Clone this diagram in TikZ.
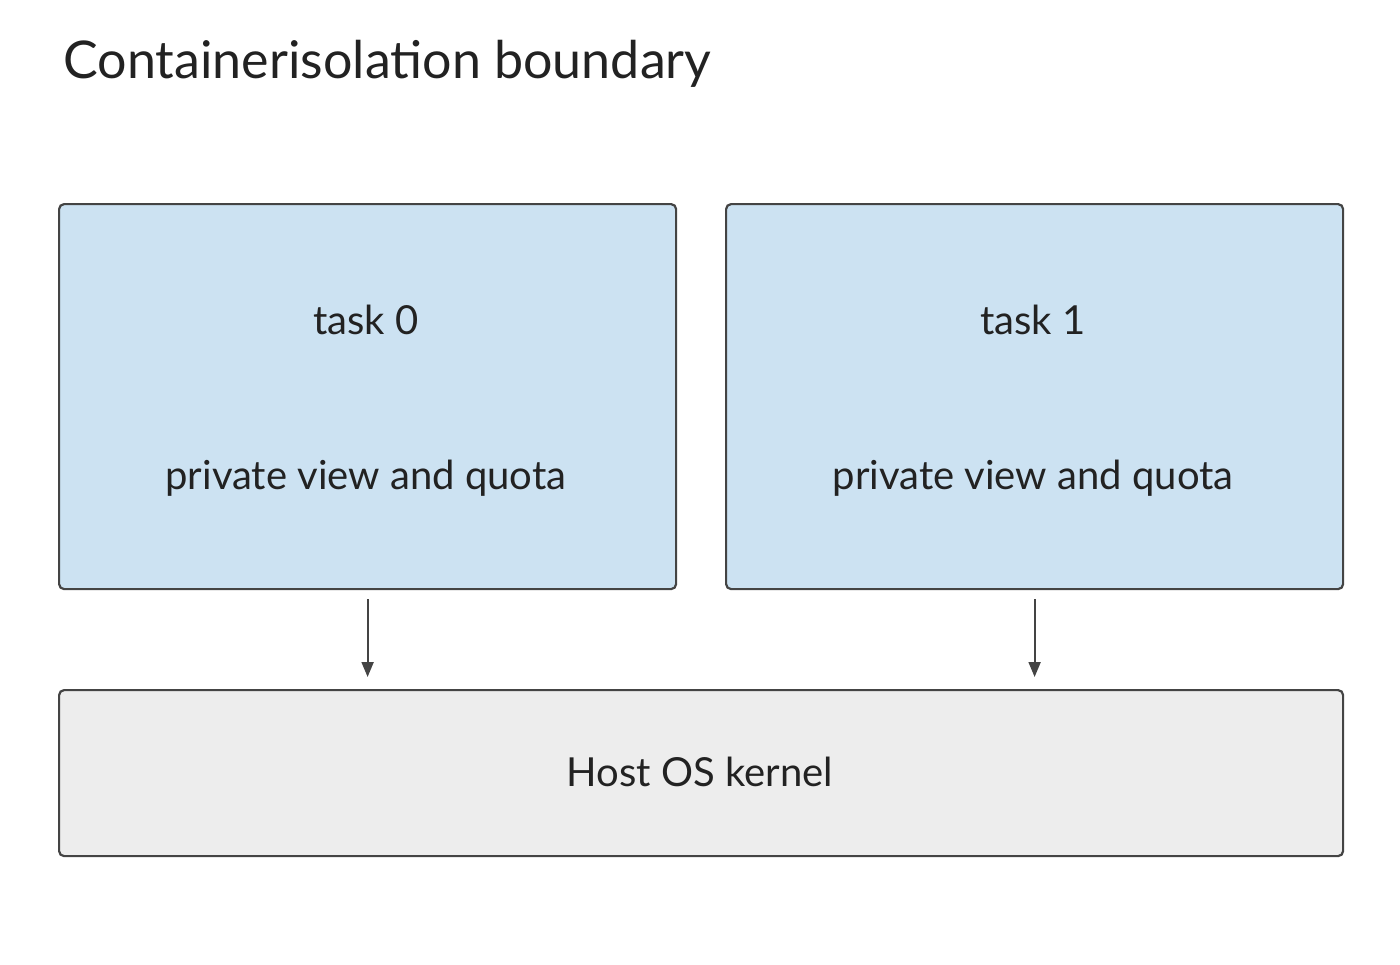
\documentclass[tikz,border=0pt]{standalone}
\usepackage{fontspec}
\setmainfont{Lato}
\usetikzlibrary{arrows.meta}
\definecolor{bord}{HTML}{444444}
\definecolor{blu}{HTML}{CCE2F2}
\definecolor{gry}{HTML}{EDEDED}
\definecolor{txt}{HTML}{222222}
\begin{document}
\begin{tikzpicture}[x=1pt,y=-1pt,
  boxst/.style={draw=bord,line width=2.2pt,rounded corners=5pt,inner sep=0pt,anchor=north west},
  lbl/.style={text=txt,font=\fontsize{40}{48}\selectfont},
  arr/.style={draw=bord,line width=2pt,-{Triangle[length=15pt,width=12pt]},shorten <=9pt,shorten >=12pt}]
\useasboundingbox (0,0) rectangle (1400,964);
\node[text=txt,font=\fontsize{52}{60}\selectfont,anchor=base west] (title) at (60,78) {Containerisolation boundary};
\node[boxst,fill=blu,minimum width=617pt,minimum height=385pt] (t0) at (58,203) {};
\node[boxst,fill=blu,minimum width=617pt,minimum height=385pt] (t1) at (725,203) {};
\node[boxst,fill=gry,minimum width=1284pt,minimum height=166pt] (host) at (58,689) {};
\node[lbl] (t0a) at (366,320) {task 0};
\node[lbl] (t0b) at (366,478) {private view and quota};
\node[lbl] (t1a) at (1033,320) {task 1};
\node[lbl] (t1b) at (1033,478) {private view and quota};
\node[lbl] (hl) at (700,772) {Host OS kernel};
\draw[arr] (t0.south) -- (t0.south |- host.north);
\draw[arr] (t1.south) -- (t1.south |- host.north);
\end{tikzpicture}
\end{document}
